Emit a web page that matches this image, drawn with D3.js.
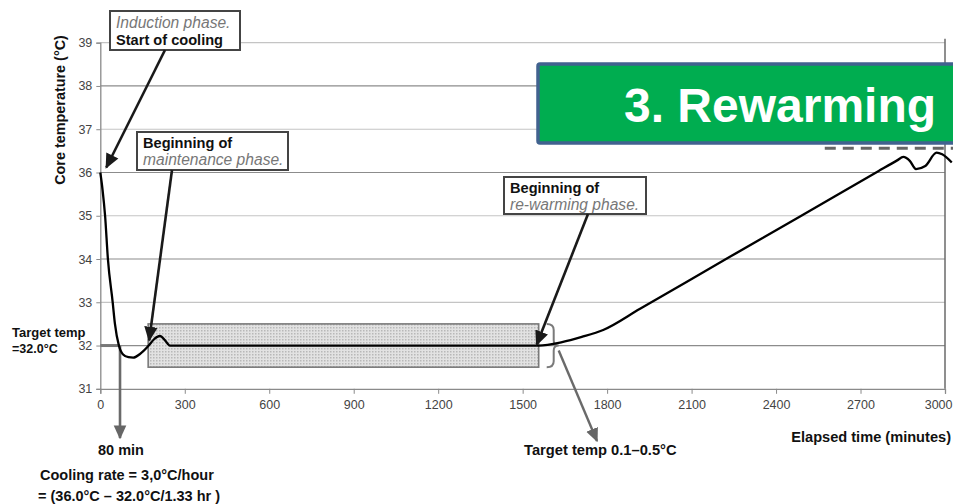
<!DOCTYPE html>
<html><head><meta charset="utf-8">
<script src="https://cdn.jsdelivr.net/npm/d3@7"></script>
<style>
body{margin:0;background:#fff;}
svg{display:block;font-family:"Liberation Sans",Arial,sans-serif;}
</style></head>
<body>
<svg id="c" width="953" height="504"></svg>
<script>
// ---- data ----
const yTicks = [31,32,33,34,35,36,37,38,39];
const xTicks = [0,300,600,900,1200,1500,1800,2100,2400,2700,3000];
const times = [0,8,17,27,44,52,66,80,100,117,140,172,190,212,230,247,260,1557,1640,1710,1786,1917,2236,2482,2763,2830,2852,2875,2897,2930,2970,2990,3024];
const temps = [36,35.6,35,34,33,32.5,32,31.8,31.73,31.72,31.8,32,32.14,32.22,32.12,32,32,32,32.08,32.2,32.36,32.85,34.05,34.97,36.03,36.28,36.36,36.27,36.08,36.15,36.46,36.42,36.23];
const targetTemp = 32;
const band = {t0:170, t1:1557, lo:31.5, hi:32.5};
const dashTemp = 36.56, dashT0 = 2573, dashT1 = 3035;
const inductionEnd = 70;

const svg = d3.select("#c");
const x = d3.scaleLinear().domain([0,3000]).range([100.3,945]);
const y = d3.scaleLinear().domain([31,39]).range([388.8,42.7]);

const defs = svg.append("defs");
const pat = defs.append("pattern").attr("id","dots").attr("width",3).attr("height",3).attr("patternUnits","userSpaceOnUse");
pat.append("rect").attr("width",3).attr("height",3).attr("fill","#e2e2e2");
pat.append("rect").attr("width",1.5).attr("height",1.5).attr("fill","#b8b8b8");
function marker(id,color,size){
  defs.append("marker").attr("id",id).attr("viewBox","0 0 10 10").attr("refX",9).attr("refY",5)
   .attr("markerWidth",size).attr("markerHeight",size).attr("markerUnits","userSpaceOnUse").attr("orient","auto")
   .append("path").attr("d","M0,0.5 L10,5 L0,9.5 Z").attr("fill",color);
}
marker("ab","#1a1a1a",15);
marker("ag","#666",14);

// gridlines
svg.append("g").selectAll("line").data(yTicks.slice(1)).join("line")
  .attr("x1",x(0)).attr("x2",x(3000)).attr("y1",d=>y(d)).attr("y2",d=>y(d))
  .attr("stroke",d=>d%2===0?"#8c8c8c":"#c4c4c4").attr("stroke-width",1.2);

// axes
const gy = svg.append("g").attr("transform",`translate(${x(0)},0)`)
  .call(d3.axisLeft(y).tickValues(yTicks).tickSize(4).tickPadding(4).tickFormat(d3.format("d")));
const gx = svg.append("g").attr("transform",`translate(0,${y(31)})`)
  .call(d3.axisBottom(x).tickValues(xTicks).tickSize(5).tickPadding(6).tickFormat(d3.format("d")));
[gy,gx].forEach(g=>{
  g.select(".domain").attr("stroke","#8a8a8a").attr("stroke-width",1.3);
  g.selectAll(".tick line").attr("stroke","#8a8a8a");
  g.selectAll(".tick text").attr("fill","#444").style("font-size","12.5px").style("font-family","Liberation Sans, Arial, sans-serif");
});
// keep last x label inside the picture
gx.selectAll(".tick text").filter(d=>d===3000).attr("text-anchor","end").attr("dx",7);

// right border
svg.append("line").attr("x1",x(3000)).attr("x2",x(3000)).attr("y1",y(39)-4).attr("y2",y(31))
  .attr("stroke","#6a6a6a").attr("stroke-width",1.5);

// maintenance band
svg.append("rect").attr("x",x(band.t0)).attr("y",y(band.hi))
  .attr("width",x(band.t1)-x(band.t0)).attr("height",y(band.lo)-y(band.hi))
  .attr("fill","url(#dots)").attr("stroke","#7a7a7a").attr("stroke-width",1.6);

// target temp markers
svg.append("line").attr("x1",x(0)).attr("x2",x(inductionEnd)).attr("y1",y(targetTemp)).attr("y2",y(targetTemp))
  .attr("stroke","#777").attr("stroke-width",3);
svg.append("line").attr("x1",x(inductionEnd)).attr("x2",x(inductionEnd)).attr("y1",y(targetTemp)).attr("y2",438)
  .attr("stroke","#6a6a6a").attr("stroke-width",2.6).attr("marker-end","url(#ag)");

// brace
const bx = x(band.t1)+8, bt = y(band.hi), bb = y(band.lo), bm = y(targetTemp);
svg.append("path").attr("d",`M${bx},${bt} q7,0 7,6 V${bm-5} q0,5 5,5 q-5,0 -5,5 V${bb-6} q0,6 -7,6`)
  .attr("fill","none").attr("stroke","#7a7a7a").attr("stroke-width",2);
svg.append("line").attr("x1",bx+12).attr("y1",bm+5).attr("x2",597).attr("y2",441)
  .attr("stroke","#6a6a6a").attr("stroke-width",2.4).attr("marker-end","url(#ag)");

// dashed level
svg.append("line").attr("x1",x(dashT0)).attr("x2",x(dashT1)).attr("y1",y(dashTemp)).attr("y2",y(dashTemp))
  .attr("stroke","#666").attr("stroke-width",3).attr("stroke-dasharray","11,7");

// temperature curve
const pts = times.map((t,i)=>[t,temps[i]]);
svg.append("path").datum(pts)
  .attr("d",d3.line().x(d=>x(d[0])).y(d=>y(d[1])).curve(d3.curveMonotoneX))
  .attr("fill","none").attr("stroke","#000").attr("stroke-width",2.3);

// annotation boxes
function box(bx0,by0,w,h,lines){
  svg.append("rect").attr("x",bx0).attr("y",by0).attr("width",w).attr("height",h)
    .attr("fill","#fff").attr("stroke","#444").attr("stroke-width",2);
  lines.forEach(l=>{
    svg.append("text").attr("x",bx0+6).attr("y",by0+l.dy).text(l.t)
      .style("font-size",l.it?"15.6px":"14.6px").style("font-weight",l.it?"normal":"bold")
      .style("font-style",l.it?"italic":"normal").attr("fill",l.it?"#777":"#111");
  });
}
function arrow(x1,y1,x2,y2){
  svg.append("line").attr("x1",x1).attr("y1",y1).attr("x2",x2).attr("y2",y2)
    .attr("stroke","#1a1a1a").attr("stroke-width",2.6).attr("marker-end","url(#ab)");
}
box(110,11,130,39,[{t:"Induction phase.",it:true,dy:17},{t:"Start of cooling",dy:34}]);
arrow(165,50,x(0)+6,y(36)-5);
box(137,132,151,38,[{t:"Beginning of",dy:16},{t:"maintenance phase.",it:true,dy:33}]);
arrow(172,170,x(band.t0)+1,y(32.12));
box(504,177,142,37,[{t:"Beginning of",dy:16},{t:"re-warming phase.",it:true,dy:33}]);
arrow(588,214,x(band.t1)-2,y(32)-1);

// labels
const bold = (tx,ty,s,fs,anchor)=>svg.append("text").attr("x",tx).attr("y",ty).attr("text-anchor",anchor||"start")
  .text(s).style("font-size",fs+"px").style("font-weight","bold").attr("fill","#111");
svg.append("text").attr("transform","translate(65,110) rotate(-90)").attr("text-anchor","middle")
  .text("Core temperature (°C)").style("font-size","14.4px").style("font-weight","bold").attr("fill","#111");
bold(951,442,"Elapsed time (minutes)",14.6,"end");
bold(524,455,"Target temp 0.1\u20130.5°C",14.7);
bold(121,455,"80 min",14.5,"middle");
bold(40,480,"Cooling rate = 3,0°C/hour",14.5);
bold(38,501,"= (36.0°C \u2013 32.0°C/1.33 hr )",14.5);
bold(12,337,"Target temp",13);
bold(12,353,"=32.0°C",12.5);

// rewarming banner
svg.append("rect").attr("x",538).attr("y",64).attr("width",440).attr("height",79).attr("rx",2)
  .attr("fill","#00AD50").attr("stroke","#41628f").attr("stroke-width",3.5);
svg.append("text").attr("x",624).attr("y",122).text("3. Rewarming")
  .style("font-size","48px").style("font-weight","bold").attr("fill","#fff");
</script>
</body></html>
